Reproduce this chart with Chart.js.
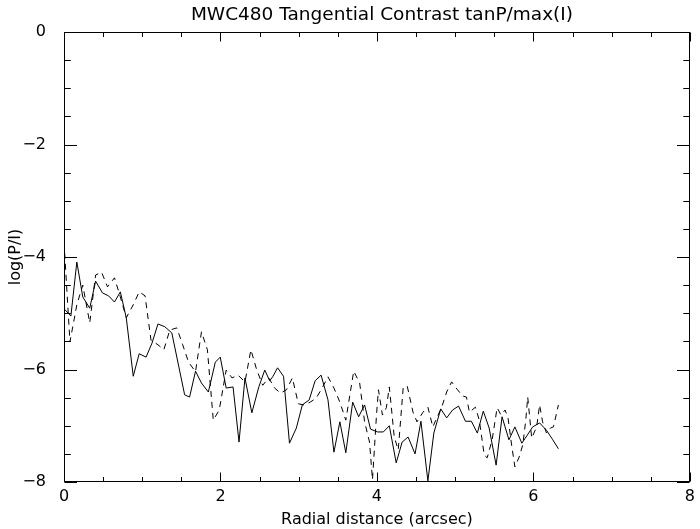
<!DOCTYPE html>
<html>
<head>
<meta charset="utf-8">
<script src="https://cdn.jsdelivr.net/npm/chart.js@4/dist/chart.umd.min.js"></script>
<style>
html,body{margin:0;padding:0;background:#fff;}
#wrap{width:700px;height:529px;}
</style>
</head>
<body>
<div id="wrap"><canvas id="c" width="700" height="529"></canvas></div>
<script>
// ---- data ----
const chartTitle = "MWC480 Tangential Contrast tanP/max(I)";
const xTitle = "Radial distance (arcsec)";
const yTitle = "log(P/I)";

const solidX = [0.000,0.088,0.164,0.240,0.329,0.404,0.493,0.569,0.645,0.720,0.796,0.885,0.961,1.049,1.125,1.201,1.289,1.378,1.466,1.542,1.605,1.681,1.757,1.845,1.934,1.997,2.073,2.161,2.237,2.313,2.401,2.490,2.566,2.629,2.667,2.730,2.806,2.882,2.970,3.046,3.134,3.210,3.286,3.374,3.450,3.526,3.602,3.690,3.766,3.842,3.918,4.006,4.082,4.158,4.246,4.322,4.398,4.487,4.562,4.651,4.727,4.815,4.891,4.967,5.043,5.131,5.207,5.283,5.359,5.434,5.523,5.599,5.687,5.763,5.852,5.915,5.991,6.079,6.167,6.243,6.319];
const solidY = [-4.92,-5.05,-4.09,-4.71,-4.91,-4.43,-4.64,-4.69,-4.80,-4.62,-5.08,-6.12,-5.72,-5.78,-5.53,-5.19,-5.24,-5.35,-5.94,-6.45,-6.49,-6.03,-6.24,-6.40,-5.87,-5.78,-6.33,-6.31,-7.29,-6.15,-6.77,-6.31,-6.01,-6.20,-6.13,-5.97,-6.12,-7.31,-7.04,-6.63,-6.54,-6.20,-6.10,-6.54,-7.47,-6.93,-7.48,-6.58,-6.84,-6.63,-7.06,-7.11,-7.11,-7.00,-7.66,-7.29,-7.20,-7.50,-6.92,-7.98,-7.13,-6.70,-6.86,-6.72,-6.65,-6.92,-6.92,-7.13,-6.74,-7.04,-7.70,-6.84,-7.25,-7.02,-7.31,-7.18,-7.02,-6.95,-7.08,-7.24,-7.41];

const dashX = [0.000,0.076,0.164,0.240,0.329,0.404,0.480,0.556,0.645,0.720,0.796,0.885,0.961,1.036,1.112,1.201,1.276,1.352,1.441,1.517,1.592,1.681,1.757,1.833,1.908,1.984,2.073,2.148,2.224,2.313,2.389,2.464,2.540,2.616,2.692,2.768,2.844,2.919,2.995,3.071,3.147,3.223,3.299,3.374,3.450,3.526,3.602,3.703,3.779,3.842,3.905,3.943,3.994,4.019,4.070,4.120,4.158,4.221,4.272,4.335,4.386,4.461,4.512,4.588,4.651,4.714,4.765,4.828,4.891,4.954,5.030,5.093,5.144,5.182,5.258,5.308,5.371,5.409,5.472,5.536,5.586,5.637,5.675,5.725,5.763,5.814,5.864,5.902,5.927,5.978,6.041,6.079,6.117,6.167,6.218,6.256,6.319];
const dashY = [-3.73,-5.51,-4.85,-4.50,-5.17,-4.32,-4.27,-4.53,-4.37,-4.71,-5.08,-4.85,-4.62,-4.69,-5.48,-5.56,-5.65,-5.30,-5.26,-5.56,-5.87,-6.04,-5.33,-5.65,-6.90,-6.72,-6.01,-6.15,-6.10,-6.22,-5.65,-6.01,-6.28,-6.15,-6.33,-6.42,-6.36,-6.15,-6.61,-6.63,-6.58,-6.51,-6.33,-6.13,-6.33,-6.58,-6.90,-6.03,-6.24,-6.93,-7.29,-7.96,-6.81,-6.36,-6.81,-6.68,-6.31,-7.20,-7.43,-6.33,-6.29,-6.76,-6.93,-6.76,-6.67,-7.02,-6.86,-6.67,-6.40,-6.22,-6.36,-6.47,-6.49,-6.76,-6.67,-6.90,-7.52,-7.57,-7.25,-6.68,-6.81,-6.72,-6.86,-7.38,-7.73,-7.57,-7.34,-6.90,-6.49,-7.22,-7.02,-6.63,-6.93,-7.13,-7.04,-7.02,-6.63];

const xMajorTicks = [0, 2, 4, 6, 8];
const xMinorTicks = [0.5, 1, 1.5, 2.5, 3, 3.5, 4.5, 5, 5.5, 6.5, 7, 7.5];
const yMajorTicks = [-8, -6, -4, -2, 0];
const yMinorTicks = [-7.5, -7, -6.5, -5.5, -5, -4.5, -3.5, -3, -2.5, -1.5, -1, -0.5];

const FONT = "'DejaVu Sans', sans-serif";

function toPts(xs, ys){ return xs.map((x,i)=>({x:x, y:ys[i]})); }

// frame, inward IDL-style ticks (placed through the chart's scales) and a title centred over the plot box
const frameTicks = {
  id: 'frameTicks',
  afterDatasetsDraw(chart){
    const {ctx, chartArea:a, scales:{x, y}} = chart;
    ctx.save();
    ctx.strokeStyle = '#000';
    ctx.lineWidth = 1;
    const L = Math.round(a.left)+0.5, R = Math.round(a.right)-0.5, T = Math.round(a.top)+0.5, B = Math.round(a.bottom)-0.5;
    ctx.strokeRect(L, T, R-L, B-T);
    const h = B - T, w = R - L;
    const xMaj = 0.02*h, xMin = 0.01*h, yMaj = 0.02*w, yMin = 0.01*w;
    ctx.beginPath();
    const xt = (v, len) => { const p = Math.round(x.getPixelForValue(v))+0.5;
      ctx.moveTo(p, B); ctx.lineTo(p, B-len); ctx.moveTo(p, T); ctx.lineTo(p, T+len); };
    const yt = (v, len) => { const p = Math.round(y.getPixelForValue(v))+0.5;
      ctx.moveTo(L, p); ctx.lineTo(L+len, p); ctx.moveTo(R, p); ctx.lineTo(R-len, p); };
    xMajorTicks.forEach(v=>xt(v, xMaj));
    xMinorTicks.forEach(v=>xt(v, xMin));
    yMajorTicks.forEach(v=>yt(v, yMaj));
    yMinorTicks.forEach(v=>yt(v, yMin));
    ctx.stroke();
    ctx.fillStyle = '#000';
    ctx.font = "18.5px " + FONT;
    ctx.textAlign = 'center';
    ctx.textBaseline = 'alphabetic';
    ctx.fillText(chartTitle, (a.left + a.right)/2 + 5, 20);
    ctx.restore();
  }
};

new Chart(document.getElementById('c'), {
  type: 'scatter',
  data: {
    datasets: [
      { label: 'solid', data: toPts(solidX, solidY), showLine: true, borderColor: '#000', borderWidth: 1, pointRadius: 0, tension: 0, fill: false },
      { label: 'dashed', data: toPts(dashX, dashY), showLine: true, borderColor: '#000', borderWidth: 1, borderDash: [6, 5], pointRadius: 0, tension: 0, fill: false }
    ]
  },
  options: {
    responsive: false,
    animation: false,
    layout: { padding: { left: 0, right: 3, top: 32, bottom: 0 } },
    plugins: {
      legend: { display: false },
      tooltip: { enabled: false },
      title: { display: false }
    },
    scales: {
      x: {
        type: 'linear', min: 0, max: 8,
        afterFit(s){ s.height = 47; },
        afterBuildTicks(s){ s.ticks = xMajorTicks.map(v=>({value:v})); },
        ticks: { color: '#000', font: { family: FONT, size: 16 }, padding: 5, maxRotation: 0, callback: v => String(v).replace('-', '\u2212') },
        grid: { display: false, drawTicks: false },
        border: { display: false },
        title: { display: true, text: xTitle, color: '#000', font: { family: FONT, size: 16, lineHeight: 1.2 }, padding: { top: 0, bottom: 0 } }
      },
      y: {
        type: 'linear', min: -8, max: 0,
        afterFit(s){ s.width = 64; },
        afterBuildTicks(s){ s.ticks = yMajorTicks.map(v=>({value:v})); },
        ticks: { color: '#000', font: { family: FONT, size: 16 }, padding: 18, callback: v => String(v).replace('-', '\u2212') },
        grid: { display: false, drawTicks: false },
        border: { display: false },
        title: { display: true, text: yTitle, color: '#000', font: { family: FONT, size: 16, lineHeight: 1.2 }, padding: { top: 6, bottom: 0 } }
      }
    }
  },
  plugins: [frameTicks]
});
</script>
</body>
</html>
